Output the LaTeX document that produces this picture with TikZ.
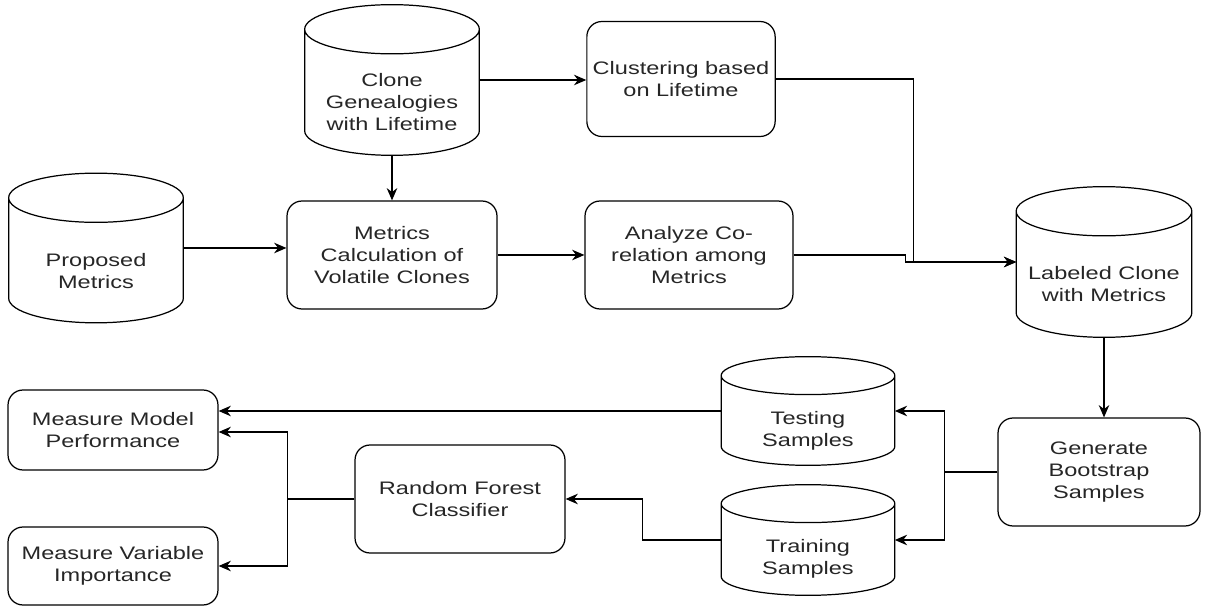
\documentclass[tikz,border=0pt]{standalone}
\usepackage{fontspec}
\setmainfont{Liberation Sans}[FakeStretch=1.3]
\usetikzlibrary{arrows.meta,calc}

\tikzset{
  box/.style={draw, rounded corners=0.3cm, line width=0.7pt, align=center,
    minimum width=4.2cm, minimum height=2.16cm},
  db/.style={minimum width=3.46cm, inner sep=0pt},
  lbl/.style={align=center, inner sep=0pt},
  arr/.style={-{Stealth[length=7pt,width=6pt]}, line width=0.7pt},
}

% outline of a data store drawn round the named node
\newcommand\drawdb[2][14pt]{%
  \draw[line width=0.7pt] let \p1=(#2.north west), \p2=(#2.south east),
    \n1={(\x2-\x1)/2} in
    (\x1,\y1-#1) -- (\x1,\y2+#1)
    arc[start angle=180, end angle=360, x radius=\n1, y radius=#1]
    -- (\x2,\y1-#1)
    arc[start angle=0, end angle=180, x radius=\n1, y radius=#1]
    (\x1,\y1-#1)
    arc[start angle=180, end angle=360, x radius=\n1, y radius=#1];}

\begin{document}
\begin{tikzpicture}[x=0.02cm, y=-0.02cm,
  every node/.style={font=\fontsize{10.3}{12.3}\selectfont, text=black!85}]

\useasboundingbox (0,0) rectangle (1210,607);

% data stores
\node[db, minimum width=3.48cm, minimum height=3.0cm] (gene) at (392,80) {};
\node[db, minimum width=3.48cm, minimum height=2.98cm] (prop) at (96,248) {};
\node[db, minimum width=3.5cm, minimum height=3.0cm] (lab) at (1104,262) {};
\node[db, minimum height=2.16cm] (test) at (808,411) {};
\node[db, minimum height=2.2cm] (train) at (808,540) {};
\drawdb{gene} \drawdb{prop} \drawdb{lab}
\drawdb[10.8pt]{test} \drawdb[10.8pt]{train}

\node[lbl] (geneT) at (392,102) {Clone\\Genealogies\\with Lifetime};
\node[lbl] (propT) at (96,271) {Proposed\\Metrics};
\node[lbl] (labT) at (1104,284) {Labeled Clone\\with Metrics};
\node[lbl] (testT) at (808,431) {Testing\\Samples};
\node[lbl] (trainT) at (808,559) {Training\\Samples};

% process steps
\node[box, minimum width=3.54cm, minimum height=2.3cm] (clus) at (681,79) {Clustering based\\on Lifetime};
\node[box] (calc) at (392,255) {Metrics\\Calculation of\\Volatile Clones};
\node[box, minimum width=4.16cm] (anal) at (689,255) {Analyze Co-\\relation among\\Metrics};
\node[box, minimum width=4.04cm] (gen) at (1099,472) {Generate\\Bootstrap\\Samples};
\node[box] (rf) at (460,499) {Random Forest\\Classifier};
\node[box, minimum height=1.6cm] (perf) at (113,430) {Measure Model\\Performance};
\node[box, minimum height=1.56cm] (imp) at (113,566) {Measure Variable\\Importance};

% connectors
\draw[arr] (gene.east) -- (gene.east -| clus.west);
\draw[arr] (gene.south) -- (gene.south |- calc.north);
\draw[arr] (prop.east) -- (prop.east -| calc.west);
\draw[arr] (calc.east) -- (anal.west);
\draw[arr] (clus.east) -- ++(138,0) |- (lab.west);
\draw[arr] (anal.east) -- ++(112,0) |- (lab.west);
\draw[arr] (lab.south) -- (lab.south |- gen.north);
\draw[arr] (gen.west) -- ++(-53,0) |- (test.east);
\draw[arr] (gen.west) -- ++(-53,0) |- (train.east);
\draw[arr] (test.west) -- (test.west -| perf.east);
\draw[arr] (train.west) -- ++(-79,0) |- (rf.east);
\draw[arr] (rf.west) -- ++(-67,0) |- ($(perf.east)+(0,2)$);
\draw[arr] (rf.west) -- ++(-67,0) |- (imp.east);

\end{tikzpicture}
\end{document}
